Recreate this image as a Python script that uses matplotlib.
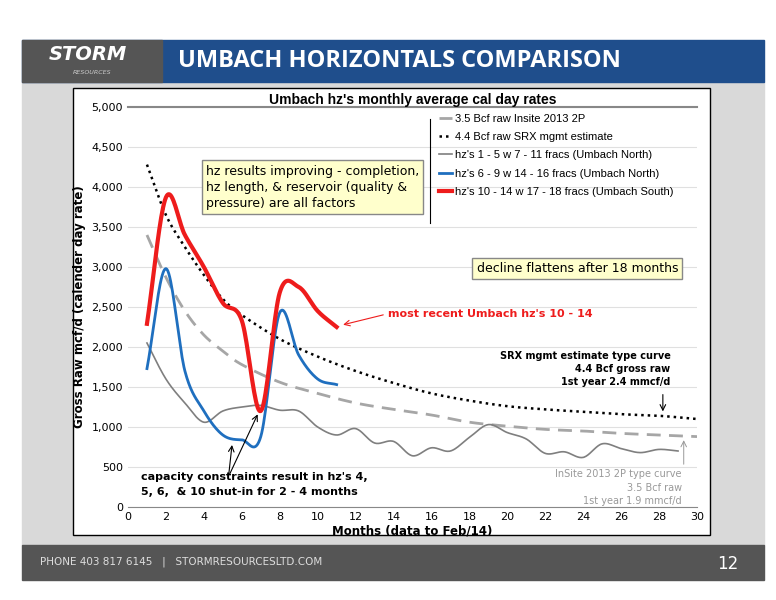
import numpy as np
import matplotlib
matplotlib.use("Agg")
import matplotlib.pyplot as plt
from matplotlib.patches import Rectangle

m_gray = list(range(1, 30))
v_gray = [2050,1600,1300,1060,1200,1250,1270,1210,1200,1000,900,980,800,820,640,740,700,870,1030,930,850,670,690,620,790,730,680,720,700]
m_short = list(range(1, 12))
v_blue = [1730,2980,1700,1200,900,840,880,2430,1900,1600,1530]
v_red = [2290,3870,3400,3000,2550,2330,1200,2680,2750,2450,2250]
m_type = [1,2,3,4,5,6,8,10,12,14,16,18,20,22,24,26,28,30]
v_insite = [3400,2870,2450,2150,1950,1780,1560,1420,1300,1220,1150,1060,1010,970,950,920,900,880]
v_srx = [4280,3650,3250,2900,2600,2400,2100,1880,1700,1550,1420,1330,1260,1220,1190,1160,1140,1100]
labels = ["3.5 Bcf raw Insite 2013 2P", "4.4 Bcf raw SRX mgmt estimate",
          "hz's 1 - 5 w 7 - 11 fracs (Umbach North)", "hz's 6 - 9 w 14 - 16 fracs (Umbach North)",
          "hz's 10 - 14 w 17 - 18 fracs (Umbach South)"]

def smooth(x, y, n=20):
    x = np.asarray(x, float); y = np.asarray(y, float)
    px = np.concatenate([[2*x[0]-x[1]], x, [2*x[-1]-x[-2]]])
    py = np.concatenate([[2*y[0]-y[1]], y, [2*y[-1]-y[-2]]])
    xs, ys = [], []
    for i in range(1, len(px)-2):
        t = np.linspace(0, 1, n, endpoint=False)
        for arr, out in ((px, xs), (py, ys)):
            p0, p1, p2, p3 = arr[i-1], arr[i], arr[i+1], arr[i+2]
            out.extend(0.5*((2*p1) + (-p0+p2)*t + (2*p0-5*p1+4*p2-p3)*t**2 + (-p0+3*p1-3*p2+p3)*t**3))
    xs.append(x[-1]); ys.append(y[-1])
    return xs, ys

fig = plt.figure(figsize=(7.76, 6), dpi=100)
W, H = 776, 600
def fx(p): return p / W
def fy(p): return 1 - p / H
bg = fig.add_axes([0, 0, 1, 1]); bg.set_xlim(0, W); bg.set_ylim(H, 0); bg.axis("off")
bg.add_patch(Rectangle((22, 82), 742, 463, color="#d9d9d9"))
bg.add_patch(Rectangle((22, 40), 742, 42, color="#1f4e8c"))
bg.add_patch(Rectangle((22, 40), 140, 42, color="#555555"))
bg.text(88, 55, "STORM", color="white", fontsize=14, fontweight="bold", style="italic", ha="center", va="center")
bg.text(92, 72, "RESOURCES", color="#cccccc", fontsize=4.5, ha="center", va="center", style="italic")
bg.text(178, 61, "UMBACH HORIZONTALS COMPARISON", color="white", fontsize=17, fontweight="bold", va="center", family="Open Sans")
bg.add_patch(Rectangle((22, 545), 742, 35, color="#555555"))
bg.text(40, 562, "PHONE 403 817 6145   |   STORMRESOURCESLTD.COM", color="#dddddd", fontsize=7.5, va="center")
bg.text(738, 564, "12", color="white", fontsize=12, ha="right", va="center")
bg.add_patch(Rectangle((73, 88), 637, 447, facecolor="white", edgecolor="black", lw=1))

ax = fig.add_axes([fx(128), fy(507), (697-128)/W, (507-107)/H])
ax.set_xlim(0, 30); ax.set_ylim(0, 5000)
ax.set_xticks(range(0, 31, 2)); ax.set_yticks(range(0, 5001, 500))
ax.set_yticklabels([f"{v:,}" for v in range(0, 5001, 500)])
ax.tick_params(labelsize=8, length=0)
ax.grid(axis="y", color="#e0e0e0", lw=0.8)
for s in ["left", "right"]: ax.spines[s].set_visible(False)
ax.spines["top"].set_color("#888888"); ax.spines["top"].set_linewidth(1.5)
ax.spines["bottom"].set_color("#888888")
ax.set_facecolor("none")
ax.set_title("Umbach hz's monthly average cal day rates", fontsize=10, fontweight="bold", pad=2, family="Liberation Sans")
ax.set_xlabel("Months (data to Feb/14)", fontsize=8.5, fontweight="bold", labelpad=2)
ax.set_ylabel("Gross Raw mcf/d (calender day rate)", fontsize=8.5, fontweight="bold", labelpad=4)

ax.plot(*smooth(m_type, v_insite), color="#a6a6a6", lw=2, ls=(0, (5, 3)), label=labels[0])
ax.plot(*smooth(m_type, v_srx), color="black", lw=1.8, ls=(0, (1, 1.6)), label=labels[1])
ax.plot(*smooth(m_gray, v_gray), color="#7f7f7f", lw=1.2, label=labels[2])
ax.plot(*smooth(m_short, v_blue), color="#1f6fbf", lw=2, label=labels[3])
ax.plot(*smooth(m_short, v_red), color="#ee1c1c", lw=3, label=labels[4])
ax.legend(loc="upper left", bbox_to_anchor=(0.535, 1.0), frameon=False,
          handlelength=1.2, handletextpad=0.2, labelspacing=0.75, borderaxespad=0.2,
          prop={"family": "Liberation Sans", "size": 8})
ax.plot([15.9, 15.9], [4850, 3550], color="black", lw=0.8)

ax.text(4.1, 4000, "hz results improving - completion,\nhz length, & reservoir (quality &\npressure) are all factors",
        fontsize=9, va="center", linespacing=1.3,
        bbox=dict(facecolor="#ffffcc", edgecolor="#888888", pad=3))
ax.text(29.0, 2980, "decline flattens after 18 months", fontsize=9, ha="right", va="center",
        bbox=dict(facecolor="#ffffcc", edgecolor="#888888", pad=3))
ax.text(13.7, 2410, "most recent Umbach hz's 10 - 14", color="#ee1c1c", fontsize=8, fontweight="bold", va="center")
ax.annotate("", xy=(11.2, 2270), xytext=(13.6, 2410), arrowprops=dict(arrowstyle="->", color="#ee1c1c", lw=0.8))
ax.text(28.6, 1950, "SRX mgmt estimate type curve\n4.4 Bcf gross raw\n1st year 2.4 mmcf/d", fontsize=7,
        fontweight="bold", ha="right", va="top", linespacing=1.4)
ax.annotate("", xy=(28.2, 1160), xytext=(28.2, 1440), arrowprops=dict(arrowstyle="->", lw=0.8))
ax.text(29.2, 470, "InSite 2013 2P type curve\n3.5 Bcf raw\n1st year 1.9 mmcf/d", fontsize=7,
        color="#999999", ha="right", va="top", linespacing=1.4)
ax.annotate("", xy=(29.3, 870), xytext=(29.3, 500), arrowprops=dict(arrowstyle="->", lw=0.7, color="#999999"))
ax.text(0.7, 280, "capacity constraints result in hz's 4,\n5, 6,  & 10 shut-in for 2 - 4 months", fontsize=8,
        fontweight="bold", va="center", linespacing=1.6)
ax.annotate("", xy=(5.5, 810), xytext=(5.3, 380), arrowprops=dict(arrowstyle="->", lw=0.8))
ax.annotate("", xy=(6.9, 1190), xytext=(5.3, 380), arrowprops=dict(arrowstyle="->", lw=0.8))

fig.savefig("out.png", dpi=100)
